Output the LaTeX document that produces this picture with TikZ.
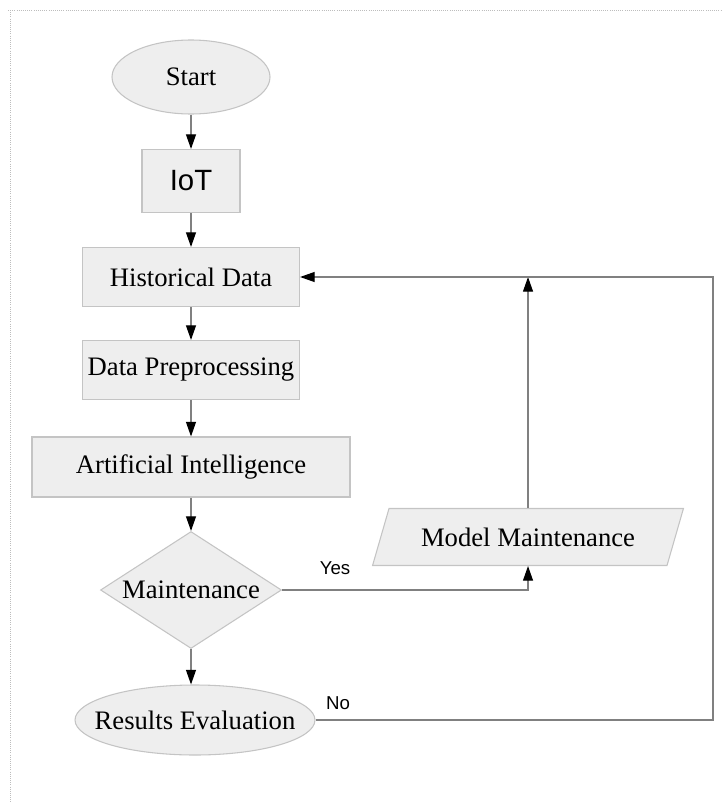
\documentclass[tikz,border=0pt]{standalone}
\usepackage{fontspec}
\setmainfont{Liberation Serif}
\newfontfamily\arialfont{Liberation Sans}
\usepackage{tikz}
\usetikzlibrary{shapes.geometric,arrows.meta}
\definecolor{fillgray}{HTML}{EEEEEE}
\definecolor{edge}{HTML}{C4C4C4}
\definecolor{linegray}{HTML}{808080}
\definecolor{framegray}{HTML}{BDBDBD}
\tikzset{
  box/.style={draw=edge, fill=fillgray, line width=0.8pt, inner sep=0pt, font=\fontsize{20}{24}\selectfont},
  proc/.style={box, rectangle},
  term/.style={box, ellipse},
  decide/.style={box, diamond, aspect=1.55},
  io/.style={box, trapezium, trapezium left angle=56, trapezium right angle=124, trapezium stretches=true},
  flow/.style={draw=linegray, line width=0.9pt, -{Triangle[length=11pt, width=7.5pt, black]}},
  lab/.style={font=\arialfont\fontsize{14}{16}\selectfont},
  frame/.style={draw=framegray, densely dotted, line width=0.6pt}
}

\begin{document}
\begin{tikzpicture}[x=0.75pt, y=-0.75pt]
  \useasboundingbox (0,0) rectangle (721,803);
  \draw[frame] (8,10) -- (721,10);
  \draw[frame] (10,10) -- (10,803);

  \node[term, minimum width=118.5pt, minimum height=55.5pt] (start) at (191,77) {Start};
  \node[proc, minimum width=73.5pt, minimum height=47.25pt, font=\arialfont\fontsize{22}{26}\selectfont] (iot) at (191,181) {IoT};
  \node[proc, minimum width=162.75pt, minimum height=44.25pt] (hist) at (191,277) {Historical Data};
  \node[proc, minimum width=162.75pt, minimum height=44.25pt] (prep) at (191,370) {Data Preprocessing};
  \node[proc, minimum width=238.5pt, minimum height=45pt] (ai) at (191,467) {Artificial Intelligence};
  \node[decide, minimum width=135.75pt, minimum height=87.75pt] (dec) at (191,590) {Maintenance};
  \node[term, inner xsep=-14pt, minimum width=180pt, minimum height=52.5pt] (res) at (195,720) {Results Evaluation};
  \node[io, minimum width=233.25pt, minimum height=42.75pt] (mm) at (528,537) {Model Maintenance};
  \coordinate (loop) at (713,277);

  \draw[flow] (start) -- (iot);
  \draw[flow] (iot) -- (hist);
  \draw[flow] (hist) -- (prep);
  \draw[flow] (prep) -- (ai);
  \draw[flow] (ai) -- (dec);
  \draw[flow] (dec) -- (dec |- res.north);

  \draw[flow] (dec.east) -| (mm.south);
  \draw[flow] (mm.north) -- (mm.north |- hist.east);
  \draw[flow] (res.east) -| (loop) -- (hist.east);

  \node[lab] (yes) at (335,568) {Yes};
  \node[lab] (no) at (338,703) {No};
\end{tikzpicture}
\end{document}
